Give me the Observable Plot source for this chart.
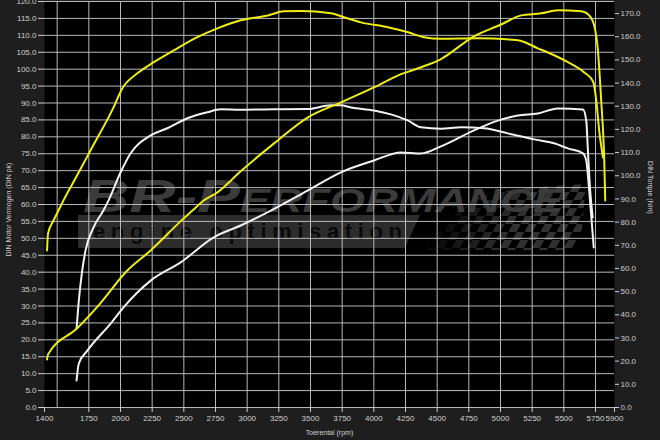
<!DOCTYPE html>
<html>
<head>
<meta charset="utf-8">
<script src="https://cdn.jsdelivr.net/npm/d3@7"></script>
<script src="https://cdn.jsdelivr.net/npm/@observablehq/plot@0.6"></script>
<style>
  html, body { margin: 0; padding: 0; background: #1e1e1e; }
  #chart svg { display: block; overflow: visible; }
</style>
</head>
<body>
<div id="chart"></div>
<script>
// ---- Data ----
// Tuned (yellow) torque, Nm (right axis)
const tunedTorqueRpm = [1420,1428,1471,1511,1550,1658,1764,1945,2014,2133,2262,2420,2607,2765,2949,3171,3289,3424,3661,3764,3898,4111,4270,4396,4530,4820,5137,5295,5424,5532,5661,5730,5756,5779,5809];
const tunedTorqueNm  = [67.8,75.1,80.7,85.1,89.4,100.2,111.0,129.5,137.7,144.2,149.0,154.1,159.8,163.6,167.1,169.3,171.0,171.1,170.1,168.4,166.2,164.1,161.9,159.8,159.1,159.3,158.5,155.0,152.0,149.0,144.6,140.8,132.6,119.6,107.9];
// Tuned (yellow) power, DIN pk (left axis)
const tunedPowerRpm = [1420,1428,1658,1827,2054,2238,2499,2568,2657,2765,2949,3210,3477,3740,4001,4188,4346,4530,4791,5005,5163,5321,5453,5637,5700,5740,5769,5795,5819,5827];
const tunedPowerPk  = [14.2,15.7,23.4,30.2,40.5,46.4,55.9,58.2,61.2,63.6,69.8,78.0,85.7,90.2,94.6,98.1,100.2,103.0,109.7,113.2,115.9,116.5,117.4,117.1,115.9,112.9,105.5,90.7,73.0,61.2];
// Stock (white) torque, Nm (right axis)
const stockTorqueRpm = [1653,1671,1698,1724,1787,1866,1906,2001,2080,2238,2370,2528,2686,2791,2949,3210,3477,3661,3740,3819,4001,4135,4267,4372,4530,4689,4870,5058,5266,5424,5532,5651,5677,5700,5716,5736];
const stockTorqueNm  = [34.1,46.2,59.2,67.8,77.7,85.1,89.4,101.5,109.7,117.4,120.5,124.8,127.4,128.7,128.5,128.7,128.8,130.4,130.4,129.5,128.2,126.5,123.9,120.9,120.3,120.9,120.5,118.3,115.7,114.0,111.8,109.7,106.6,93.7,82.9,69.1];
// Stock (white) power, DIN pk (left axis)
const stockPowerRpm = [1653,1671,1738,1922,2024,2238,2475,2736,2949,3187,3477,3740,4001,4214,4372,4530,4791,4979,5137,5295,5453,5651,5677,5690,5708,5728];
const stockPowerPk  = [8.0,13.0,16.8,24.8,29.6,37.5,42.9,50.3,53.8,58.2,64.1,69.5,73.0,75.4,75.1,77.2,81.9,84.8,86.3,86.9,88.4,88.1,84.8,76.0,64.1,56.2];

// Axis ticks
const rpmTickLabels = [1400,1750,2000,2250,2500,2750,3000,3250,3500,3750,4000,4250,4500,4750,5000,5250,5500,5750,5900];
const rpmGrid = [1500,1750,2000,2250,2500,2750,3000,3250,3500,3750,4000,4250,4500,4750,5000,5250,5500,5750];
const powerTicks = d3.range(0, 121, 5);
const torqueTicks = d3.range(0, 171, 10);
const powerMax = 120;
const torqueMax = 175.2; // torque value at the top of the plot

const K = powerMax / torqueMax; // torque -> left-axis units

const toRows = (rpm, vals, f = 1) => rpm.map((r, i) => ({rpm: r, v: vals[i] * f}));
const tunedTorque = toRows(tunedTorqueRpm, tunedTorqueNm, K);
const tunedPower = toRows(tunedPowerRpm, tunedPowerPk);
const stockTorque = toRows(stockTorqueRpm, stockTorqueNm, K);
const stockPower = toRows(stockPowerRpm, stockPowerPk);

const YELLOW = "#eeee14";
const WHITE = "#f2f2f2";
const GRID = "#b8b8b8";
const TEXT = "#cfcfcf";

const chart = Plot.plot({
  width: 660,
  height: 440,
  marginLeft: 44,
  marginRight: 46,
  marginTop: 1,
  marginBottom: 33,
  style: {background: "#1e1e1e", color: TEXT, fontSize: "8px", fontFamily: "'Liberation Sans', Arial, sans-serif"},
  x: {domain: [1400, 5900]},
  y: {domain: [0, powerMax]},
  marks: [
    Plot.frame({fill: "black", stroke: null}),
    Plot.gridY(powerTicks, {stroke: GRID, strokeOpacity: 1, strokeWidth: 1}),
    Plot.gridX(rpmGrid, {stroke: GRID, strokeOpacity: 1, strokeWidth: 1}),
    Plot.axisY(powerTicks, {anchor: "left", tickSize: 6, tickPadding: 2, label: null, tickFormat: d => d.toFixed(1)}),
    Plot.axisY(torqueTicks.map(t => t * K), {anchor: "right", tickSize: 4, tickPadding: 2, label: null, tickFormat: d => (d / K).toFixed(1)}),
    Plot.axisX(rpmTickLabels, {anchor: "bottom", tickSize: 5, tickPadding: 3, label: null, tickFormat: d => String(d)}),
    Plot.text(["Toerental (rpm)"], {frameAnchor: "bottom", dy: 25, textAnchor: "middle", lineAnchor: "middle", fontSize: 7, fill: TEXT}),
    Plot.text(["DIN Motor Vermogen (DIN pk)"], {frameAnchor: "left", dx: -36, dy: 5, rotate: -90, textAnchor: "middle", lineAnchor: "middle", fontSize: 7, fill: TEXT}),
    Plot.text(["DIN Torque (Nm)"], {frameAnchor: "right", dx: 36, dy: -17, rotate: 90, textAnchor: "middle", lineAnchor: "middle", fontSize: 7, fill: TEXT}),
    Plot.line(stockPower, {x: "rpm", y: "v", stroke: WHITE, strokeWidth: 2, curve: "monotone-x"}),
    Plot.line(stockTorque, {x: "rpm", y: "v", stroke: WHITE, strokeWidth: 2, curve: "monotone-x"}),
    Plot.line(tunedPower, {x: "rpm", y: "v", stroke: YELLOW, strokeWidth: 2, curve: "monotone-x"}),
    Plot.line(tunedTorque, {x: "rpm", y: "v", stroke: YELLOW, strokeWidth: 2, curve: "monotone-x"})
  ]
});

// Watermark logo (decoration) placed between the black frame and the grid
const frameEl = chart.querySelector('[aria-label="frame"]');
const ns = "http://www.w3.org/2000/svg";
const wm = document.createElementNS(ns, "g");
wm.setAttribute("text-anchor", "start");
let checks = "";
for (let i = 0; i < 22; i++) {
  for (let j = 0; j < 9; j++) {
    if ((i + j) % 2 === 0) {
      const op = Math.max(0.1, Math.min(0.9, (i - 2) / 12));
      checks += `<rect x="${i * 8}" y="${j * 8}" width="8" height="8" fill="#363636" fill-opacity="${op.toFixed(2)}"/>`;
    }
  }
}
wm.innerHTML = `
  <defs><clipPath id="flagclip"><polygon points="424,250 470,198 520,188 586,184 580,250"/></clipPath></defs>
  <g clip-path="url(#flagclip)"><g transform="translate(430,184) skewX(-28)">${checks}</g></g>
  <polygon points="78,215 420,215 405,248 78,248" fill="#2c2c2c"/>
  <text x="83" y="212" text-anchor="start" font-family="'Liberation Sans', Arial, sans-serif" font-weight="bold" font-style="italic" fill="#3b3b3b" textLength="480" lengthAdjust="spacingAndGlyphs"><tspan font-size="47">BR-P</tspan><tspan font-size="33">ERFORMANCE</tspan></text>
  <text x="93" y="239" text-anchor="start" font-family="'Liberation Sans', Arial, sans-serif" font-size="22" font-weight="bold" fill="#0a0a0a" textLength="309" lengthAdjust="spacing">engine optimisation</text>
`;
frameEl.after(wm);

document.getElementById("chart").appendChild(chart);
</script>
</body>
</html>
